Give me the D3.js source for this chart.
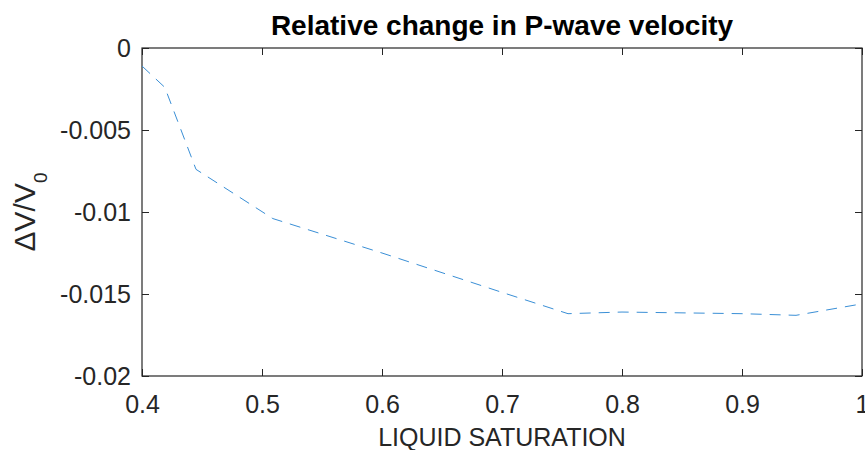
<!DOCTYPE html>
<html>
<head>
<meta charset="utf-8">
<script src="https://cdn.jsdelivr.net/npm/d3@7"></script>
<style>
  body { margin: 0; background: #fff; }
  svg text { font-family: "Liberation Sans", Arial, sans-serif; fill: #262626; }
</style>
</head>
<body>
<div id="chart"></div>
<script>
// liquid saturation vs relative velocity change
const saturation = [0.4, 0.419, 0.445, 0.509, 0.6, 0.7, 0.755, 0.8, 0.9, 0.945, 1.0];
const dvv = [-0.0011, -0.0024, -0.0074, -0.0104, -0.0125, -0.0149, -0.0162, -0.0161, -0.0162, -0.0163, -0.0156];
const xTicks = [0.4, 0.5, 0.6, 0.7, 0.8, 0.9, 1];
const yTicks = [0, -0.005, -0.01, -0.015, -0.02];

const width = 865, height = 450;
const margin = { top: 48, right: 3, bottom: 74, left: 142 };
const innerW = width - margin.left - margin.right;
const innerH = height - margin.top - margin.bottom;

const svg = d3.select('#chart').append('svg')
    .attr('width', width)
    .attr('height', height);

const g = svg.append('g')
    .attr('transform', `translate(${margin.left},${margin.top})`);

const x = d3.scaleLinear().domain([0.4, 1]).range([0, innerW]);
const y = d3.scaleLinear().domain([-0.02, 0]).range([innerH, 0]);

const tickLen = 7;
const axisColor = '#262626';

// ticks inside the box, bottom/top and left/right
function styleAxis(sel) {
    sel.select('.domain').remove();
    sel.selectAll('.tick line').attr('stroke', axisColor).attr('stroke-width', 1);
}

g.append('g')
    .attr('transform', `translate(0,${innerH})`)
    .call(d3.axisBottom(x).tickValues(xTicks).tickSize(-tickLen).tickPadding(19)
        .tickFormat(d => d === 1 ? '1' : d3.format('.1f')(d)))
    .call(styleAxis)
    .call(a => a.selectAll('text').attr('font-size', 25).attr('fill', axisColor));

g.append('g')
    .call(d3.axisTop(x).tickValues(xTicks).tickSize(-tickLen).tickFormat(''))
    .call(styleAxis);

g.append('g')
    .call(d3.axisLeft(y).tickValues(yTicks).tickSize(-tickLen).tickPadding(11)
        .tickFormat(d => d === 0 ? '0' : String(d)))
    .call(styleAxis)
    .call(a => a.selectAll('text').attr('font-size', 25).attr('fill', axisColor));

g.append('g')
    .attr('transform', `translate(${innerW},0)`)
    .call(d3.axisRight(y).tickValues(yTicks).tickSize(-tickLen).tickFormat(''))
    .call(styleAxis);

g.append('rect')
    .attr('width', innerW)
    .attr('height', innerH)
    .attr('fill', 'none')
    .attr('stroke', axisColor)
    .attr('stroke-width', 1.2);

const line = d3.line()
    .x((d, i) => x(saturation[i]))
    .y(d => y(d));

g.append('path')
    .datum(dvv)
    .attr('d', line)
    .attr('fill', 'none')
    .attr('stroke', '#3a8fd6')
    .attr('stroke-width', 1)
    .attr('stroke-dasharray', '11,8');

// title
svg.append('text')
    .attr('x', margin.left + innerW / 2)
    .attr('y', 35)
    .attr('text-anchor', 'middle')
    .attr('font-size', 28)
    .attr('font-weight', 'bold')
    .style('fill', '#000')
    .text('Relative change in P-wave velocity');

// x label
svg.append('text')
    .attr('x', margin.left + innerW / 2)
    .attr('y', 446)
    .attr('text-anchor', 'middle')
    .attr('font-size', 25)
    .text('LIQUID SATURATION');

// y label
const yl = svg.append('text')
    .attr('transform', `translate(35,${margin.top + innerH / 2}) rotate(-90)`)
    .attr('text-anchor', 'middle')
    .attr('font-size', 30);
yl.append('tspan').text('ΔV/V');
yl.append('tspan').attr('dy', 12).attr('font-size', 19).text('0');
</script>
</body>
</html>
